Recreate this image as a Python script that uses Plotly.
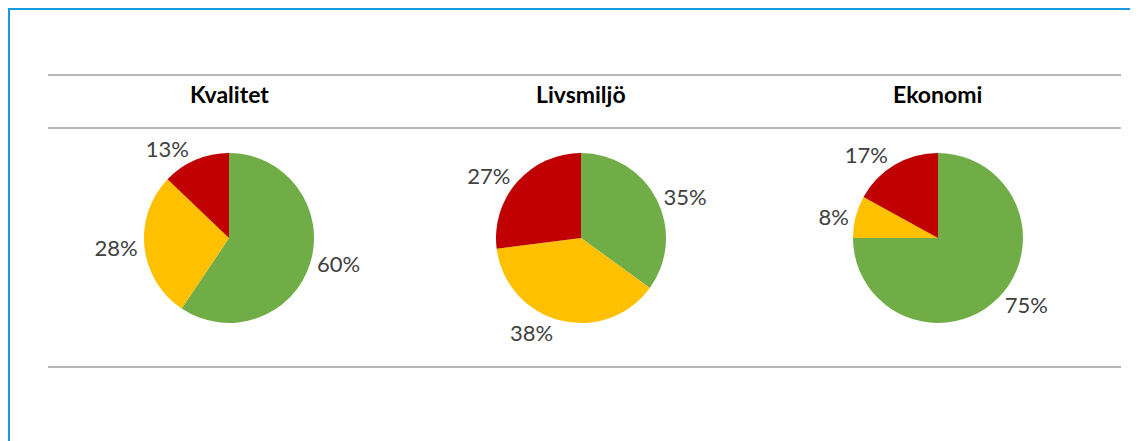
import plotly.graph_objects as go

titles = ["Kvalitet", "Livsmiljö", "Ekonomi"]
labels = ["Grön", "Gul", "Röd"]
kvalitet = [60, 28, 13]
livsmiljo = [35, 38, 27]
ekonomi = [75, 8, 17]
series = [kvalitet, livsmiljo, ekonomi]
colors = ["#70AD47", "#FFC000", "#C00000"]

# the page body adds an 8px margin, so the figure is drawn 8px smaller and shifted
OFF = 8
W, H = 1138 - OFF, 441 - OFF
centers_px = [229, 581, 938]
cy_px = 238
radius_px = 85
FONT = "Lato, Open Sans, sans-serif"


def px(xr):
    return (xr - OFF) / W


def py(yr):
    return 1 - (yr - OFF) / H


fig = go.Figure()
for i, vals in enumerate(series):
    cx = px(centers_px[i])
    cy = py(cy_px)
    hw = 150 / W
    hh = radius_px / H
    fig.add_trace(go.Pie(
        labels=labels, values=vals, sort=False, direction="clockwise", rotation=0,
        marker=dict(colors=colors, line=dict(width=0)),
        texttemplate="%{value}%", textposition="outside", automargin=False,
        textfont=dict(family=FONT, size=22, color="#404040"),
        domain=dict(x=[cx - hw, cx + hw], y=[cy - hh, cy + hh]),
        showlegend=False, hoverinfo="label+value",
    ))
    fig.add_annotation(x=cx, y=py(94), xref="paper", yref="paper", text=f"<b>{titles[i]}</b>",
                       xanchor="center", yanchor="middle",
                       showarrow=False, font=dict(family=FONT, size=23, color="#000000"))

shapes = []
for ypx in [75, 128, 367]:
    shapes.append(dict(type="line", xref="paper", yref="paper", x0=px(48), x1=px(1121),
                       y0=py(ypx), y1=py(ypx), line=dict(color="#A0A0A0", width=1.5)))
shapes.append(dict(type="line", xref="paper", yref="paper", x0=0, x1=1, y0=1, y1=1,
                   line=dict(color="#1A98E0", width=4)))
shapes.append(dict(type="line", xref="paper", yref="paper", x0=0, x1=0, y0=0, y1=1,
                   line=dict(color="#1A98E0", width=4)))

fig.update_layout(width=W, height=H, showlegend=False,
                  margin=dict(l=0, r=0, t=0, b=0, pad=0, autoexpand=False),
                  paper_bgcolor="white", plot_bgcolor="white", shapes=shapes)
fig.write_html("out.html", config={"displayModeBar": False})
